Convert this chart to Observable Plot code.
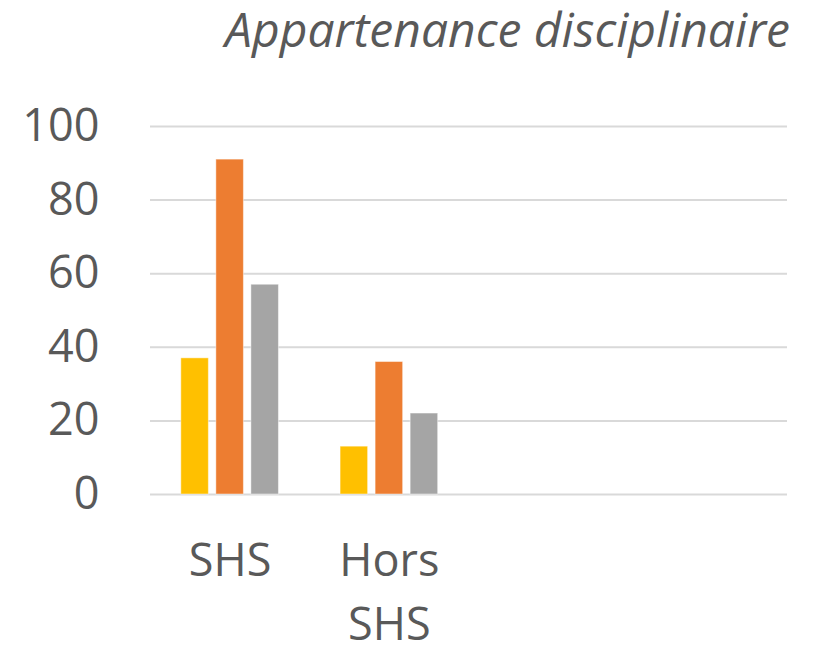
<!DOCTYPE html>
<html>
<head>
<meta charset="utf-8">
<script src="https://cdn.jsdelivr.net/npm/d3@7"></script>
<script src="https://cdn.jsdelivr.net/npm/@observablehq/plot@0.6"></script>
<style>
  body { margin: 0; background: #fff; font-family: "Open Sans", sans-serif; }
  #wrap { position: relative; width: 817px; height: 649px; }
  #wrap svg { position: absolute; left: 0; top: 0; }
  #title { position: absolute; top: 0px; right: 27px; font-size: 48px; line-height: 1.2; font-style: italic; color: #595959; white-space: nowrap; z-index: 2; }
</style>
</head>
<body>
<div id="wrap">
  <div id="title">Appartenance disciplinaire</div>
</div>
<script>
const categories = ["SHS", "Hors SHS", "(vide 1)", "(vide 2)"];
const categoryLabels = ["SHS", "Hors\nSHS", "", ""];
const series = ["Série 1", "Série 2", "Série 3"];
const seriesColors = ["#FFC000", "#ED7D31", "#A5A5A5"];
const valuesSerie1 = [37, 13];
const valuesSerie2 = [91, 36];
const valuesSerie3 = [57, 22];
const yTicks = [0, 20, 40, 60, 80, 100];

const seriesValues = [valuesSerie1, valuesSerie2, valuesSerie3];
const data = [];
series.forEach((s, i) => {
  seriesValues[i].forEach((v, j) => data.push({category: categories[j], series: s, value: v}));
});

const common = {
  width: 817,
  height: 649,
  marginTop: 126,
  marginBottom: 155,
  marginLeft: 150,
  marginRight: 30
};

// Background: gridlines, y axis and category labels over all four category slots
const back = Plot.plot({
  ...common,
  style: {fontFamily: "Open Sans, sans-serif", fontSize: "45px", color: "#595959", background: "#fff"},
  x: {type: "point", domain: categories, padding: 0.5, round: false, axis: null},
  y: {domain: [0, 100], ticks: yTicks, tickSize: 0, tickPadding: 51, label: null},
  marks: [
    Plot.ruleY(yTicks, {stroke: "#d9d9d9", strokeWidth: 2}),
    Plot.text(categories, {
      x: d => d,
      text: d => categoryLabels[categories.indexOf(d)],
      frameAnchor: "bottom",
      lineAnchor: "top",
      dy: 36,
      lineHeight: 1.42,
      fill: "#595959",
      fontSize: 45
    })
  ]
});

// Foreground: grouped bars faceted by category
const front = Plot.plot({
  ...common,
  style: {background: "transparent"},
  fx: {domain: categories, padding: 0, round: false, axis: null},
  x: {domain: series, paddingInner: 0.214, paddingOuter: 0.88, round: false, axis: null},
  y: {domain: [0, 100], axis: null},
  color: {domain: series, range: seriesColors},
  marks: [
    Plot.barY(data, {fx: "category", x: "series", y: "value", fill: "series", stroke: "#ffffff", strokeOpacity: 0.45, strokeWidth: 1})
  ]
});

const wrap = document.getElementById("wrap");
wrap.appendChild(back);
wrap.appendChild(front);
</script>
</body>
</html>
